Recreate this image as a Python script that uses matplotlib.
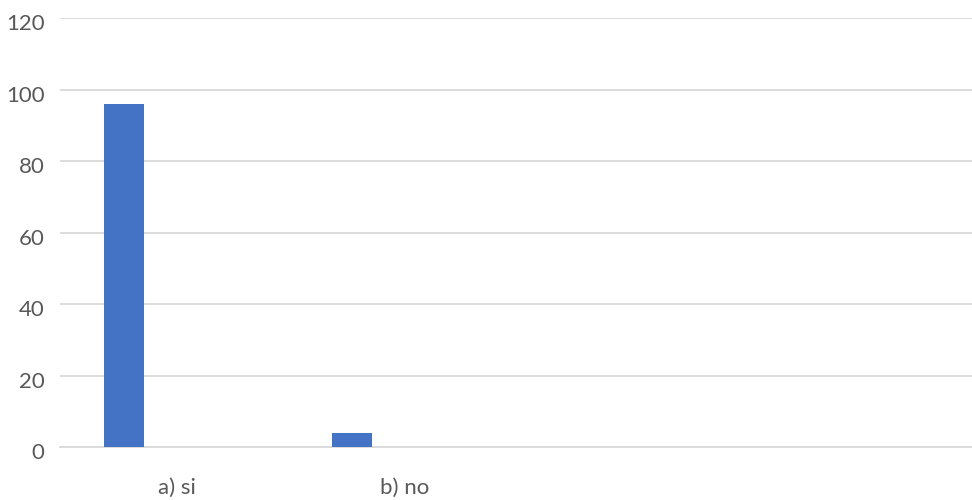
import matplotlib
matplotlib.use("Agg")
import matplotlib.pyplot as plt
import matplotlib.transforms as mtransforms
import numpy as np

categories = ["a) si", "b) no", "", ""]
values = [96, 4, 0, 0]
yticks = [0, 20, 40, 60, 80, 100, 120]

plt.rcParams['font.family'] = ['Lato', 'DejaVu Sans']

fig = plt.figure(figsize=(9.72, 5.0), dpi=100)
ax = fig.add_axes([60/972, 1-447/500, 912/972, (447-18)/500])

x = np.arange(len(categories))
ax.bar(x - 0.22, values, width=40/228, color='#4472C4', zorder=3)

ax.set_xlim(-0.5, len(categories) - 0.5)
ax.set_ylim(0, 120)
ax.set_yticks(yticks)
ax.set_xticks(x)
ax.set_xticklabels(categories)
ax.grid(axis='y', color='#d9d9d9', linewidth=1.3, zorder=0)
for s in ['top', 'right', 'left']:
    ax.spines[s].set_visible(False)
ax.spines['bottom'].set_color('#d9d9d9')
ax.spines['bottom'].set_linewidth(1.3)
ax.tick_params(axis='both', length=0, colors='#595959', labelsize=16)
ax.tick_params(axis='y', pad=11)
ax.tick_params(axis='x', pad=22)

offset = mtransforms.ScaledTranslation(0, -4/100, fig.dpi_scale_trans)
for lbl in ax.get_yticklabels():
    lbl.set_transform(lbl.get_transform() + offset)
offx = mtransforms.ScaledTranslation(3/100, 0, fig.dpi_scale_trans)
for lbl in ax.get_xticklabels():
    lbl.set_transform(lbl.get_transform() + offx)

fig.savefig('out.png', dpi=100)
